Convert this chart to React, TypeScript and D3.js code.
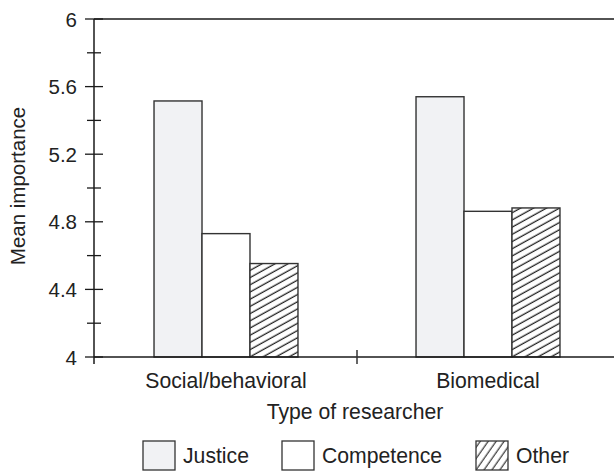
import React from "react";
import * as d3 from "d3";

const categories = ["Social/behavioral", "Biomedical"];
const seriesNames = ["Justice", "Competence", "Other"];
const justiceValues = [5.515, 5.54];
const competenceValues = [4.73, 4.862];
const otherValues = [4.553, 4.882];
const majorTicks = [4, 4.4, 4.8, 5.2, 5.6, 6];
const minorTicks = [4.2, 4.6, 5.0, 5.4, 5.8];

const W = 614;
const H = 472;
const FONT = "'Liberation Sans', Arial, Helvetica, sans-serif";
const TEXT = "#222";

export default function App() {
  const x0 = d3.scaleBand<string>().domain(categories).range([95, 619]).padding(0);
  const x1 = d3
    .scaleBand<string>()
    .domain(seriesNames)
    .range([0, x0.bandwidth()])
    .paddingInner(0)
    .paddingOuter(1.23);
  const y = d3.scaleLinear().domain([4, 6]).range([357, 19]);

  const valuesBySeries: Record<string, number[]> = {
    Justice: justiceValues,
    Competence: competenceValues,
    Other: otherValues,
  };
  const fills: Record<string, string> = {
    Justice: "#f1f2f4",
    Competence: "#ffffff",
    Other: "url(#hatch)",
  };
  const legendFills: Record<string, string> = {
    Justice: "#f1f2f4",
    Competence: "#ffffff",
    Other: "url(#hatchLegend)",
  };
  const legendBoxX = [143, 282, 476];
  const axisX = 94;
  const fmt = (v: number) => (Number.isInteger(v) ? String(v) : v.toFixed(1));

  return (
    <svg
      width={W}
      height={H}
      style={{ position: "absolute", left: 0, top: 0, background: "#fff" }}
      fontFamily={FONT}
    >
      <defs>
        <pattern
          id="hatch"
          patternUnits="userSpaceOnUse"
          width={10}
          height={6.3}
          patternTransform="rotate(-29)"
        >
          <rect width={10} height={6.3} fill="#fff" />
          <line x1={0} y1={3} x2={10} y2={3} stroke="#222" strokeWidth={1.3} />
        </pattern>
        <pattern
          id="hatchLegend"
          patternUnits="userSpaceOnUse"
          width={10}
          height={6.5}
          patternTransform="rotate(-55)"
        >
          <rect width={10} height={6.5} fill="#fff" />
          <line x1={0} y1={3} x2={10} y2={3} stroke="#222" strokeWidth={1.1} />
        </pattern>
      </defs>

      {/* bars */}
      {categories.map((c, ci) => (
        <g key={c} transform={`translate(${x0(c)},0)`}>
          {seriesNames.map((s) => {
            const v = valuesBySeries[s][ci];
            return (
              <rect
                key={s}
                x={x1(s)}
                y={y(v)}
                width={x1.bandwidth()}
                height={y(4) - y(v)}
                fill={fills[s]}
                stroke="#333"
                strokeWidth={1.4}
              />
            );
          })}
        </g>
      ))}

      {/* top frame line */}
      <line x1={axisX} y1={y(6)} x2={W} y2={y(6)} stroke="#1a1a1a" strokeWidth={1.5} />
      {/* x axis */}
      <line x1={axisX} y1={y(4)} x2={W} y2={y(4)} stroke="#1a1a1a" strokeWidth={1.5} />
      {/* y axis */}
      <line x1={axisX} y1={y(6)} x2={axisX} y2={y(4) + 7} stroke="#1a1a1a" strokeWidth={1.5} />

      {/* category separator tick */}
      <line
        x1={x0(categories[1])}
        y1={y(4) - 7}
        x2={x0(categories[1])}
        y2={y(4) + 7}
        stroke="#333"
        strokeWidth={1.5}
      />

      {/* y ticks */}
      {majorTicks.map((t) => (
        <g key={t}>
          <line x1={axisX - 9} x2={axisX + 9} y1={y(t)} y2={y(t)} stroke="#1a1a1a" strokeWidth={1.3} />
          <text
            x={axisX - 17}
            y={y(t)}
            textAnchor="end"
            dominantBaseline="central"
            fontSize={20.5}
            fill={TEXT}
          >
            {fmt(t)}
          </text>
        </g>
      ))}
      {minorTicks.map((t) => (
        <line key={t} x1={axisX - 7} x2={axisX + 7} y1={y(t)} y2={y(t)} stroke="#1a1a1a" strokeWidth={1.3} />
      ))}

      {/* category labels */}
      {categories.map((c) => (
        <text
          key={c}
          x={(x0(c) as number) + x0.bandwidth() / 2}
          y={388}
          textAnchor="middle"
          fontSize={21.2}
          fill={TEXT}
        >
          {c}
        </text>
      ))}

      {/* axis titles */}
      <text x={355} y={419} textAnchor="middle" fontSize={21.2} fill={TEXT}>
        Type of researcher
      </text>
      <text
        transform={`translate(25,186) rotate(-90)`}
        textAnchor="middle"
        fontSize={20.5}
        fill={TEXT}
      >
        Mean importance
      </text>

      {/* legend */}
      {seriesNames.map((s, i) => (
        <g key={s}>
          <rect
            x={legendBoxX[i]}
            y={441}
            width={32}
            height={29}
            fill={legendFills[s]}
            stroke="#333"
            strokeWidth={1.3}
          />
          <text x={legendBoxX[i] + 40} y={463} fontSize={21.2} fill={TEXT}>
            {s}
          </text>
        </g>
      ))}
    </svg>
  );
}
